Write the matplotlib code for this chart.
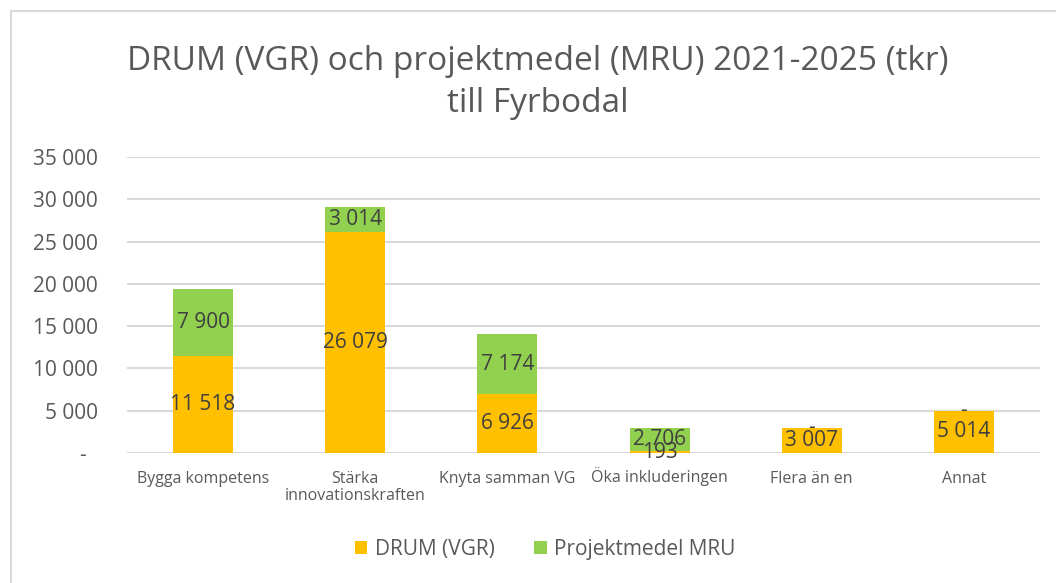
import matplotlib
matplotlib.use("Agg")
import matplotlib.pyplot as plt
from matplotlib.patches import Patch, Rectangle
from matplotlib.transforms import ScaledTranslation

plt.rcParams['font.family'] = ['Open Sans', 'DejaVu Sans']

categories = ["Bygga kompetens", "Stärka\ninnovationskraften", "Knyta samman VG",
              "Öka inkluderingen", "Flera än en", "Annat"]
drum_vgr = [11518, 26079, 6926, 193, 3007, 5014]
mru = [7900, 3014, 7174, 2706, 0, 0]
yticks = [0, 5000, 10000, 15000, 20000, 25000, 30000, 35000]

C_DRUM = "#FFC000"
C_MRU = "#92D050"
TXT = "#595959"
LBL = "#404040"
GRID = "#D9D9D9"


def fmt(v):
    if v == 0:
        return "-"
    return f"{v:,}".replace(",", " ")


fig = plt.figure(figsize=(10.56, 5.83), dpi=100)
W, H = 1056, 583
ax = fig.add_axes([127 / W, (H - 453) / H, 913 / W, 296 / H])

x = list(range(len(categories)))
bw = 0.395
ax.bar(x, drum_vgr, width=bw, color=C_DRUM, zorder=2)
ax.bar(x, mru, width=bw, bottom=drum_vgr, color=C_MRU, zorder=2)

for i in x:
    ax.text(i, drum_vgr[i] / 2, fmt(drum_vgr[i]), ha="center", va="center",
            fontsize=15, color=LBL, zorder=3)
    ax.text(i, drum_vgr[i] + mru[i] / 2, fmt(mru[i]), ha="center", va="center",
            fontsize=15, color=LBL, zorder=3)

ax.set_xlim(-0.5, len(categories) - 0.5)
ax.set_ylim(0, 35000)
ax.set_yticks(yticks)
ax.set_yticklabels([fmt(v) + ("  " if v == 0 else "") for v in yticks],
                   fontsize=15, color=TXT)
ax.set_xticks(x)
ax.set_xticklabels(categories, fontsize=11.5, color=TXT, linespacing=1.05)
ax.tick_params(axis="both", length=0)
ax.tick_params(axis="y", pad=21)
ax.tick_params(axis="x", pad=13)
ax.yaxis.grid(True, color=GRID, linewidth=1.5, zorder=0)
ax.set_axisbelow(True)
for s in ax.spines.values():
    s.set_visible(False)

# keep the label with an umlaut capital on the same baseline as the others
for lab in ax.get_xticklabels():
    if lab.get_text().startswith("Ö"):
        lab.set_transform(lab.get_transform() +
                          ScaledTranslation(0, 4 / 100, fig.dpi_scale_trans))

fig.text(538 / W, 1 - 61 / H, "DRUM (VGR) och projektmedel (MRU) 2021-2025 (tkr)",
         ha="center", va="center", fontsize=24, color=TXT)
fig.text(538 / W, 1 - 103 / H, "till Fyrbodal",
         ha="center", va="center", fontsize=24, color=TXT)

handles = [Patch(facecolor=C_DRUM, label="DRUM (VGR)"),
           Patch(facecolor=C_MRU, label="Projektmedel MRU")]
fig.legend(handles=handles, loc="center", bbox_to_anchor=(545 / W, 1 - 549 / H),
           ncol=2, frameon=False, fontsize=15, handlelength=0.6, handleheight=0.6,
           handletextpad=0.35, columnspacing=1.9, labelcolor=TXT)

fig.patches.append(Rectangle((11 / W, -0.1), 1.2, (H - 11) / H + 0.1,
                             transform=fig.transFigure, fill=False,
                             edgecolor=GRID, linewidth=1.5))

fig.savefig("out.png", dpi=100, facecolor="white")
